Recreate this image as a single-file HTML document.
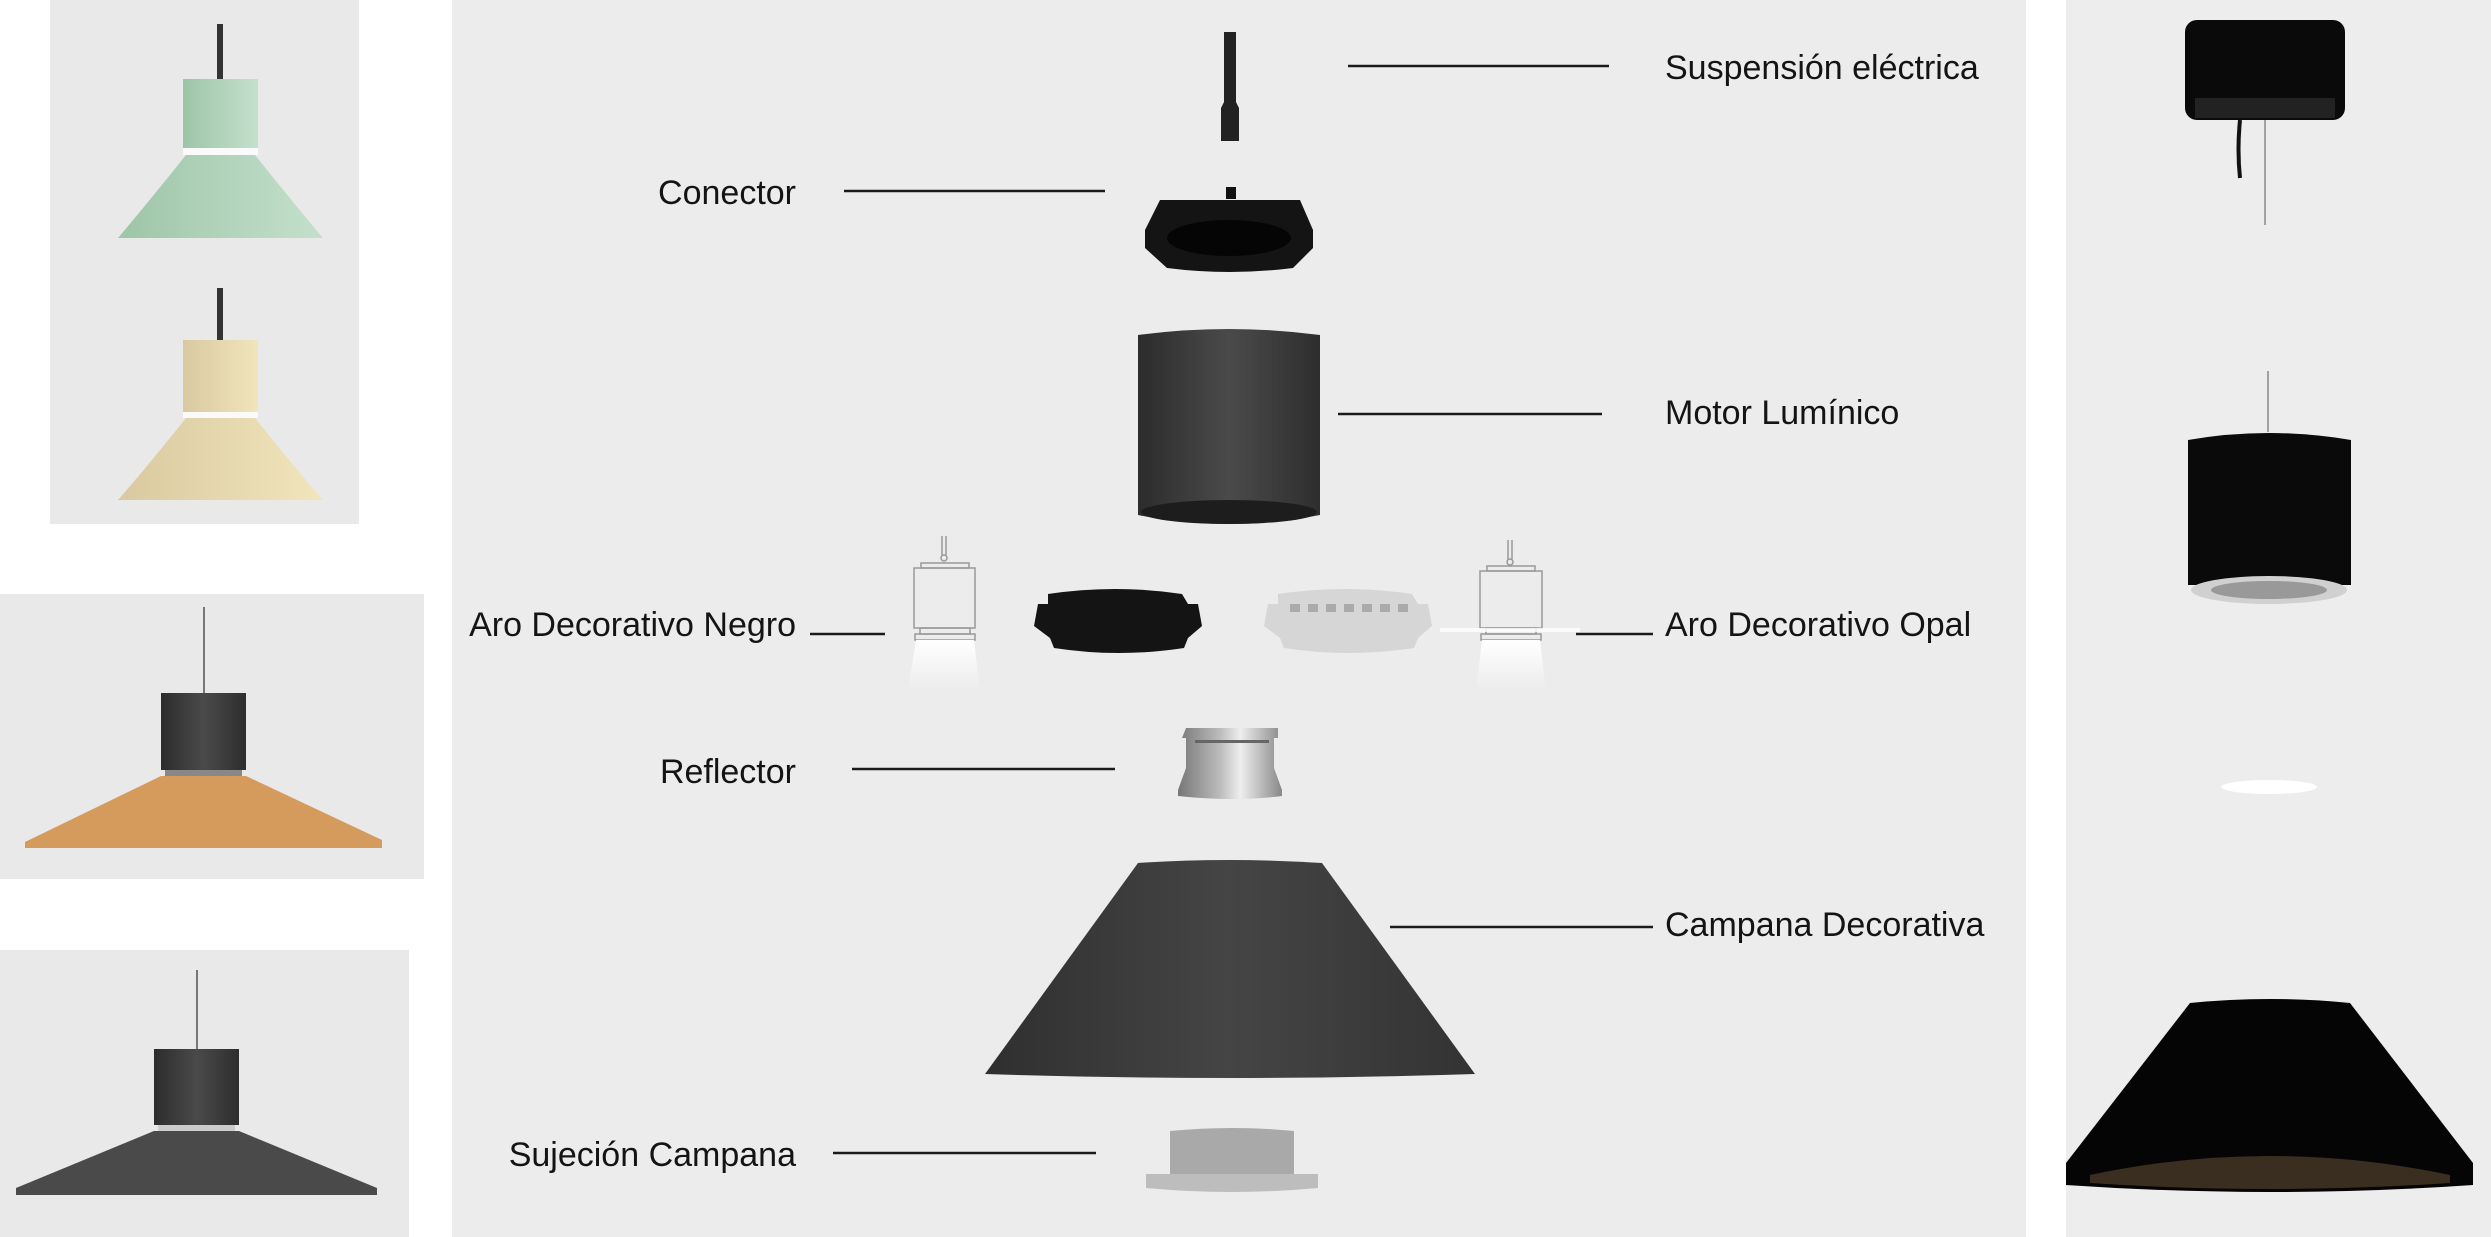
<!DOCTYPE html>
<html><head><meta charset="utf-8"><style>
html,body{margin:0;padding:0;background:#fff;}
svg{display:block;}
text{font-family:"Liberation Sans",sans-serif;font-size:34px;fill:#141414;}
</style></head><body>
<svg width="2491" height="1237" viewBox="0 0 2491 1237" xmlns="http://www.w3.org/2000/svg">
<defs>
<linearGradient id="cyl" x1="0" x2="1" y1="0" y2="0">
<stop offset="0" stop-color="#2c2c2c"/><stop offset="0.5" stop-color="#4a4a4a"/><stop offset="1" stop-color="#2e2e2e"/></linearGradient>
<linearGradient id="cone" x1="0" x2="1"><stop offset="0" stop-color="#2f2f2f"/><stop offset="0.5" stop-color="#454545"/><stop offset="1" stop-color="#333"/></linearGradient>
<linearGradient id="glow" x1="0" y1="0" x2="0" y2="1"><stop offset="0" stop-color="#fff"/><stop offset="1" stop-color="#fff" stop-opacity="0"/></linearGradient>
<linearGradient id="refl" x1="0" x2="1"><stop offset="0" stop-color="#777"/><stop offset="0.4" stop-color="#bbb"/><stop offset="0.6" stop-color="#eee"/><stop offset="1" stop-color="#888"/></linearGradient>
<linearGradient id="green" x1="0" x2="1"><stop offset="0" stop-color="#9ec5a8"/><stop offset="1" stop-color="#c4e0cc"/></linearGradient>
<linearGradient id="beige" x1="0" x2="1"><stop offset="0" stop-color="#d9c9a0"/><stop offset="1" stop-color="#f1e5bb"/></linearGradient>
</defs>
<rect x="50" y="0" width="309" height="524" fill="#e9e9e9"/>
<rect x="0" y="594" width="424" height="285" fill="#e9e9e9"/>
<rect x="0" y="950" width="409" height="287" fill="#e9e9e9"/>
<rect x="452" y="0" width="1574" height="1237" fill="#ececec"/>
<rect x="2066" y="0" width="425" height="1237" fill="#ededed"/>

<rect x="217" y="24" width="6" height="56" fill="#333"/>
<rect x="183" y="79" width="75" height="69" fill="url(#green)"/>
<rect x="183" y="148" width="75" height="7" fill="#fafafa"/>
<path d="M186,155 h69 q40,50 68,83 h-205 q28,-33 68,-83z" fill="url(#green)"/>
<rect x="217" y="288" width="6" height="52" fill="#333"/>
<rect x="183" y="340" width="75" height="72" fill="url(#beige)"/>
<rect x="183" y="412" width="75" height="6" fill="#fafafa"/>
<path d="M186,418 h69 q40,50 68,82 h-205 q28,-32 68,-82z" fill="url(#beige)"/>
<rect x="203" y="607" width="2" height="86" fill="#777"/>
<rect x="161" y="693" width="85" height="77" fill="url(#cyl)"/>
<rect x="165" y="770" width="77" height="6" fill="#888"/>
<polygon points="161,776 246,776 382,840 382,848 25,848 25,842" fill="#d59b5c"/>
<rect x="196" y="970" width="2" height="79" fill="#777"/>
<rect x="154" y="1049" width="85" height="76" fill="url(#cyl)"/>
<rect x="158" y="1125" width="77" height="6" fill="#ccc"/>
<polygon points="154,1131 239,1131 377,1188 377,1195 16,1195 16,1188" fill="#4a4a4a"/>

<path d="M1224,32 h12 v70 l3,6 v33 h-18 v-33 l3,-6z" fill="#222"/>
<rect x="1226" y="187" width="10" height="12" fill="#111"/>
<path d="M1160,200 h140 l13,30 v18 l-20,20 q-63,8 -126,0 l-22,-20 v-18z" fill="#141414"/>
<ellipse cx="1229" cy="238" rx="62" ry="18" fill="#050505"/>
<path d="M1138,335 q91,-12 182,0 v180 q-91,18 -182,0z" fill="url(#cyl)"/>
<ellipse cx="1229" cy="512" rx="88" ry="12" fill="#1d1d1d"/>

<g fill="none" stroke="#999" stroke-width="1.5">
<line x1="942" y1="536" x2="942" y2="556"/><line x1="946" y1="536" x2="946" y2="556"/>
<circle cx="944" cy="558" r="3"/>
<rect x="921" y="563" width="48" height="5"/>
<rect x="914" y="568" width="61" height="60"/>
<rect x="920" y="628" width="50" height="6"/>
<rect x="915" y="634" width="60" height="6"/>
</g>
<polygon points="916,640 974,640 980,690 908,690" fill="url(#glow)"/>
<g fill="none" stroke="#999" stroke-width="1.5">
<line x1="1508" y1="540" x2="1508" y2="560"/><line x1="1512" y1="540" x2="1512" y2="560"/>
<circle cx="1510" cy="562" r="3"/>
<rect x="1487" y="566" width="48" height="5"/>
<rect x="1480" y="571" width="62" height="57"/>
<rect x="1486" y="628" width="50" height="6"/>
<rect x="1481" y="634" width="60" height="6"/>
</g>
<rect x="1440" y="628" width="140" height="4" fill="#fff" opacity="0.8"/>
<polygon points="1482,640 1540,640 1546,690 1476,690" fill="url(#glow)"/>

<path d="M1048,594 q67,-10 134,0 l6,10 h10 l4,22 -14,12 -4,10 q-65,10 -130,0 l-4,-10 -16,-12 4,-22 h10z" fill="#141414"/>
<path d="M1278,594 q67,-10 134,0 l6,10 h10 l4,22 -14,12 -4,10 q-65,10 -130,0 l-4,-10 -16,-12 4,-22 h10z" fill="#d6d6d6"/>
<path d="M1290,608 h120" stroke="#aaa" stroke-width="8" stroke-dasharray="10 8"/>

<path d="M1186,728 h92 v10 h-4 v30 l8,22 v6 q-48,6 -104,0 v-6 l8,-22 v-30 h-4z" fill="url(#refl)"/>
<rect x="1195" y="740" width="74" height="3" fill="#666"/>
<path d="M1138,863 q92,-6 184,0 l153,211 q-245,8 -490,0z" fill="url(#cone)"/>
<path d="M1170,1131 q62,-6 124,0 v43 h-124z" fill="#a9a9a9"/>
<path d="M1146,1174 h172 v14 q-86,8 -172,0z" fill="#bdbdbd"/>

<rect x="2185" y="20" width="160" height="100" rx="12" fill="#0a0a0a"/>
<rect x="2195" y="98" width="140" height="20" fill="#222"/>
<path d="M2240,120 q-3,30 0,58" stroke="#111" stroke-width="4" fill="none"/>
<line x1="2265" y1="120" x2="2265" y2="225" stroke="#888" stroke-width="1.5"/>
<line x1="2268" y1="371" x2="2268" y2="432" stroke="#888" stroke-width="1.5"/>
<path d="M2188,440 q80,-14 163,0 v145 h-163z" fill="#0a0a0a"/>
<ellipse cx="2269" cy="590" rx="78" ry="14" fill="#d0d0d0"/>
<ellipse cx="2269" cy="590" rx="58" ry="9" fill="#999"/>
<ellipse cx="2269" cy="787" rx="48" ry="7" fill="#fff"/>
<path d="M2190,1003 q80,-8 160,0 l123,160 v22 q-203,14 -407,0 v-22z" fill="#050505"/>
<path d="M2090,1175 q179,-38 360,0 v8 q-180,12 -360,0z" fill="#3a2e20"/>

<g stroke="#1a1a1a" stroke-width="2.5">
<line x1="1348" y1="66" x2="1609" y2="66"/>
<line x1="844" y1="191" x2="1105" y2="191"/>
<line x1="1338" y1="414" x2="1602" y2="414"/>
<line x1="810" y1="634" x2="885" y2="634"/>
<line x1="1576" y1="634" x2="1653" y2="634"/>
<line x1="852" y1="769" x2="1115" y2="769"/>
<line x1="1390" y1="927" x2="1653" y2="927"/>
<line x1="833" y1="1153" x2="1096" y2="1153"/>
</g>
<text x="1665" y="79">Suspensión eléctrica</text>
<text x="796" y="204" text-anchor="end">Conector</text>
<text x="1665" y="424">Motor Lumínico</text>
<text x="796" y="636" text-anchor="end">Aro Decorativo Negro</text>
<text x="1665" y="636">Aro Decorativo Opal</text>
<text x="796" y="783" text-anchor="end">Reflector</text>
<text x="1665" y="936">Campana Decorativa</text>
<text x="796" y="1166" text-anchor="end">Sujeción Campana</text>
</svg>
</body></html>
